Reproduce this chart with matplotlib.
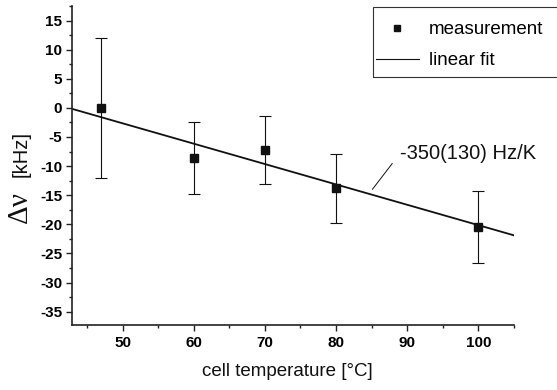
import matplotlib
matplotlib.use('Agg')
import matplotlib.pyplot as plt
from matplotlib.patches import Rectangle
from matplotlib.lines import Line2D
from matplotlib.ticker import MultipleLocator

plt.rcParams['axes.unicode_minus'] = False

# measured frequency shift vs. cell temperature
temperature = [47, 60, 70, 80, 100]  # degC
shift = [0.0, -8.6, -7.2, -13.8, -20.4]  # kHz
shift_err = [12.0, 6.2, 5.8, 5.9, 6.2]  # kHz

# linear fit parameters (kHz, kHz/K)
fit_intercept = 14.85
fit_slope = -0.35
fit_label = '-350(130) Hz/K'

xlim = (42.9, 105.0)
ylim = (-37.3, 17.5)

W, H = 557, 390
fig = plt.figure(figsize=(W / 100, H / 100), dpi=100)
ax = fig.add_axes([72 / W, 1 - 325 / H, (514 - 72) / W, (325 - 6) / H])

ax.errorbar(temperature, shift, yerr=shift_err, fmt='s', color='#111111',
            markersize=5.3, elinewidth=0.8, capsize=4.6, capthick=0.8, zorder=3)
fx = [xlim[0], xlim[1]]
fy = [fit_intercept + fit_slope * x for x in fx]
ax.plot(fx, fy, color='#111111', lw=1.3, zorder=2)

ax.set_xlim(*xlim)
ax.xaxis.set_major_locator(MultipleLocator(10))
ax.xaxis.set_minor_locator(MultipleLocator(5))
ax.yaxis.set_minor_locator(MultipleLocator(2.5))
ax.set_yticks(range(-35, 16, 5))
ax.set_ylim(*ylim)

for s in ['top', 'right']:
    ax.spines[s].set_visible(False)
for s in ['left', 'bottom']:
    ax.spines[s].set_linewidth(1.2)
    ax.spines[s].set_color('#222222')
ax.tick_params(which='major', direction='out', length=4, width=1.0, color='#222222')
ax.tick_params(which='minor', direction='out', length=2.5, width=1.0, color='#222222')
for lab in ax.get_xticklabels() + ax.get_yticklabels():
    lab.set_fontfamily('Liberation Sans')
    lab.set_fontweight('bold')
    lab.set_fontsize(11)
ax.tick_params(axis='x', pad=4)
ax.tick_params(axis='y', pad=3)

# annotation of the slope
ax.annotate('', xy=(85.1, -14.0), xytext=(87.9, -9.55),
            arrowprops=dict(arrowstyle='-', lw=0.7, color='#111111',
                            shrinkA=0, shrinkB=0))
ax.text(89.0, -7.8, fit_label, fontsize=14.5, family='Liberation Sans',
        ha='left', va='center', color='#111111')

# axis labels
fig.text(287 / W, 1 - 371 / H, 'cell temperature [°C]', fontsize=13.5,
         family='Liberation Sans', ha='center', va='center', color='#111111')
fig.text(20 / W, 1 - 207 / H, 'Δν', fontsize=21, family='Liberation Serif',
         rotation=90, ha='center', va='center', color='#111111')
fig.text(21 / W, 1 - 154 / H, '[kHz]', fontsize=14.5, family='Liberation Sans',
         rotation=90, ha='center', va='center', color='#111111')

# legend
handles = [Line2D([], [], ls='none', marker='s', markersize=5, color='#111111'),
           Line2D([], [], color='#111111', lw=0.8)]
leg = ax.legend(handles, ['measurement', 'linear fit'], loc='upper left',
                bbox_to_anchor=(375.7 / W, 1 - 21 / H),
                bbox_transform=fig.transFigure, frameon=False, borderpad=0,
                borderaxespad=0, handlelength=2.3, handletextpad=0.55,
                labelspacing=0.75, prop={'family': 'Liberation Sans', 'size': 13.5})
fig.add_artist(Rectangle((373 / W, 1 - 77 / H), 0.5, 70 / H,
                         transform=fig.transFigure, fill=False,
                         edgecolor='#333333', lw=0.8))

fig.savefig('out.png', dpi=100)
